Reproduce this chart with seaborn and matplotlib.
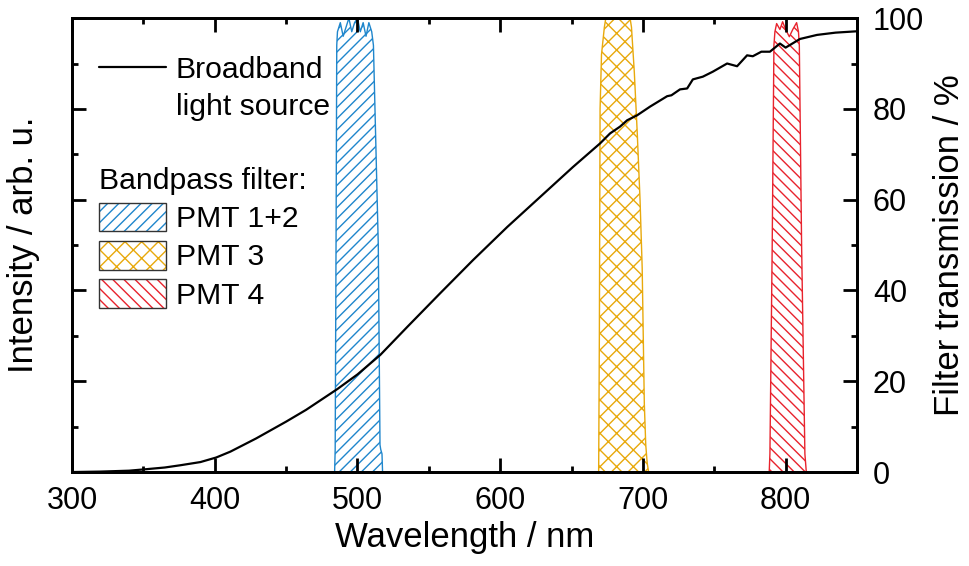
import numpy as np
import pandas as pd
import matplotlib
matplotlib.use("Agg")
import matplotlib.pyplot as plt
import seaborn as sns
from matplotlib.patches import Patch
from matplotlib.lines import Line2D
from matplotlib.legend_handler import HandlerTuple
from matplotlib.ticker import MultipleLocator, NullFormatter

# BROADBAND LIGHT SOURCE (normalised intensity, left axis)
lamp_wl = [300, 320, 340, 351, 365, 376, 390, 401, 411, 429, 450, 464, 486, 500,
           516, 535, 558, 581, 605, 628, 651, 670, 677, 684, 689, 696, 705, 717,
           720, 726, 731, 735, 742, 749, 759, 766, 773, 777, 783, 789, 796, 800,
           810, 822, 835, 850]
lamp_int = [0.0, 0.001, 0.003, 0.006, 0.010, 0.015, 0.022, 0.032, 0.045, 0.074,
            0.111, 0.137, 0.183, 0.215, 0.258, 0.320, 0.394, 0.467, 0.540, 0.606,
            0.672, 0.724, 0.746, 0.761, 0.775, 0.786, 0.805, 0.828, 0.830, 0.843,
            0.845, 0.865, 0.871, 0.882, 0.900, 0.894, 0.918, 0.916, 0.926, 0.926,
            0.944, 0.935, 0.954, 0.963, 0.968, 0.971]

# BANDPASS FILTERS (transmission in %, right axis)
pmt12_wl = [484.0, 484.4, 485.0, 485.5, 486, 488, 490, 492, 494, 496, 498, 500,
            502, 504, 506, 508, 510, 511.2, 514.6, 515.8, 516.3, 517.2, 517.6]
pmt12_tr = [0, 5, 50, 94, 97, 99, 96, 98, 100, 97, 99, 100, 97, 99, 96, 99, 97,
            94, 50, 6, 5, 4, 0]

pmt3_wl = [669.0, 669.5, 670.0, 671.0, 672, 673, 674, 676, 680, 684, 688, 691,
           692, 694, 696, 698, 699, 699.5, 700, 701, 702, 703, 704]
pmt3_tr = [0, 30, 80, 92, 95, 98, 100, 101, 102, 101, 102, 100, 98, 88, 75, 60,
           50, 45, 35, 15, 6, 2, 0]

pmt4_wl = [788.5, 789, 790.6, 791.8, 792.5, 793.7, 796, 797.9, 800, 802.6, 805,
           807.7, 809, 809.6, 811.2, 813.5, 814.5]
pmt4_tr = [0, 4, 50, 94, 97, 98.8, 97.5, 99.2, 97.5, 95.9, 97.5, 99, 97, 94, 50,
           4, 0]

filter_names = ["PMT 1+2", "PMT 3", "PMT 4"]
filter_colors = ["#1f86cc", "#e8a90c", "#e8232d"]
filter_hatches = ["///", "xx", "\\\\\\"]

sns.set_theme(style="ticks")
plt.rcParams["font.family"] = ["Liberation Sans", "DejaVu Sans"]
plt.rcParams["hatch.linewidth"] = 1.0
plt.rcParams["axes.linewidth"] = 2.0
for key in ["text.color", "axes.labelcolor", "xtick.color", "ytick.color",
            "axes.edgecolor"]:
    plt.rcParams[key] = "black"

fig, ax = plt.subplots(figsize=(9.69, 5.66), dpi=100)
fig.subplots_adjust(left=0.0743, right=0.8844, top=0.968, bottom=0.166)
ax2 = ax.twinx()

# FILTERS ON THE RIGHT AXIS
filters = [(pmt12_wl, pmt12_tr), (pmt3_wl, pmt3_tr), (pmt4_wl, pmt4_tr)]
for (wl, tr), col, hat in zip(filters, filter_colors, filter_hatches):
    ax2.fill_between(wl, tr, 0, facecolor="none", edgecolor=col, hatch=hat,
                     linewidth=1.0)

# LAMP SPECTRUM ON THE LEFT AXIS
lamp_df = pd.DataFrame({"wl": lamp_wl, "intensity": lamp_int})
sns.lineplot(data=lamp_df, x="wl", y="intensity", ax=ax, color="black",
             linewidth=1.6)

ax.set_zorder(ax2.get_zorder() + 1)
ax.patch.set_visible(False)

ax.set_xlim(300, 850)
ax.set_ylim(0, 1)
ax2.set_ylim(0, 100)

ax.xaxis.set_major_locator(MultipleLocator(100))
ax.xaxis.set_minor_locator(MultipleLocator(50))
ax.yaxis.set_major_locator(MultipleLocator(0.2))
ax.yaxis.set_minor_locator(MultipleLocator(0.1))
ax.yaxis.set_major_formatter(NullFormatter())
ax2.yaxis.set_major_locator(MultipleLocator(20))
ax2.yaxis.set_minor_locator(MultipleLocator(10))

ax.tick_params(axis="both", which="both", direction="in", top=True,
               labelsize=22, width=2.0, color="black", pad=10)
ax.tick_params(which="major", length=10)
ax.tick_params(which="minor", length=4.5)
ax2.tick_params(axis="y", which="both", direction="in", labelsize=22,
                width=2.0, color="black", pad=11.5)
ax2.tick_params(which="major", length=10)
ax2.tick_params(which="minor", length=4.5)

for a in (ax, ax2):
    for sp in a.spines.values():
        sp.set_linewidth(2.0)
        sp.set_color("black")

ax.set_xlabel("Wavelength / nm", fontsize=25, labelpad=4)
ax.set_ylabel("Intensity / arb. u.", fontsize=25, labelpad=13)
ax2.set_ylabel("Filter transmission / %", fontsize=25, labelpad=6)

# LEGENDS
lamp_handles = [Line2D([], [], color="black", linewidth=1.6),
                Line2D([], [], color="none")]
leg1 = ax.legend(lamp_handles, ["Broadband", "light source"], loc="upper left",
                 bbox_to_anchor=(0.034, 0.917), frameon=False, fontsize=21.7,
                 handlelength=2.25, handletextpad=0.3, labelspacing=0.3,
                 borderpad=0, borderaxespad=0)
ax.add_artist(leg1)

filt_handles = [
    (Patch(facecolor="white", edgecolor=c, hatch=h, linewidth=0),
     Patch(facecolor="none", edgecolor="#333333", linewidth=1.0))
    for c, h in zip(filter_colors, filter_hatches)
]
leg2 = ax.legend(filt_handles, filter_names, loc="upper left",
                 bbox_to_anchor=(0.034, 0.672), frameon=False, fontsize=21.7,
                 title="Bandpass filter:", title_fontsize=21.7, alignment="left",
                 handlelength=2.25, handleheight=1.1, handletextpad=0.3,
                 labelspacing=0.25, borderpad=0, borderaxespad=0,
                 handler_map={tuple: HandlerTuple(ndivide=1, pad=0)})

fig.savefig("out.png", dpi=100)
